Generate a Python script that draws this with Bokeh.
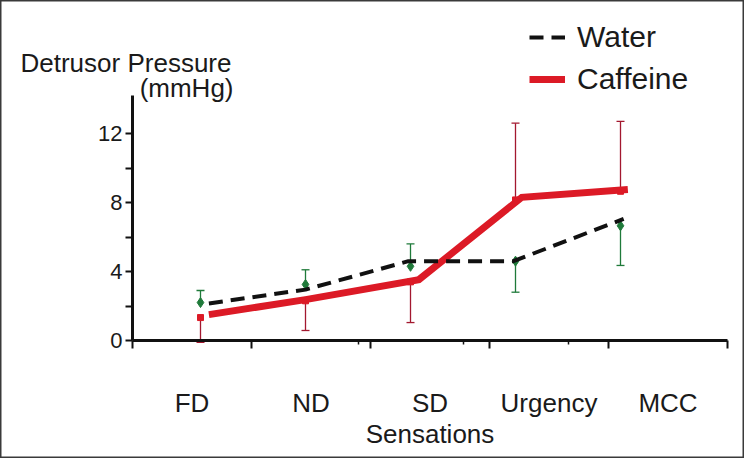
from bokeh.plotting import figure
from bokeh.models import Range1d, FixedTicker, Label, Legend, LegendItem
from bokeh.embed import file_html
from bokeh.resources import INLINE

# ---------------- data ----------------
categories = ["FD", "ND", "SD", "Urgency", "MCC"]
cat_index = [0, 1, 2, 3, 4]

water_mean = [2.2, 3.25, 4.3, 4.6, 6.65]
water_err_end = [2.9, 4.1, 5.6, 2.8, 4.35]      # one-sided error bars
caff_mean = [1.33, 2.3, 3.4, 8.15, 8.65]
caff_err_end = [-0.1, 0.58, 1.04, 12.6, 12.7]

water_line_x = [0.08, 1.0, 1.98, 2.98, 4.03]
water_line_y = [2.15, 2.95, 4.6, 4.6, 7.05]
caff_line_x = [0.08, 1.0, 2.08, 3.06, 4.07]
caff_line_y = [1.5, 2.37, 3.53, 8.3, 8.75]

y_ticks = [0, 2, 4, 6, 8, 10, 12]
y_tick_labels = {2: "", 6: "", 10: ""}

# ---------------- layout helpers (screen px of reference) ----------------
W, H = 744, 458
PX_X = 105.0      # px per category step
X0 = 200.0        # screen x of first category point
PX_Y = 17.25      # px per mmHg
Y0 = 340.0        # screen y of 0


def dx(sx):
    return (sx - X0) / PX_X


def dy(sy):
    return (Y0 - sy) / PX_Y


ax_x0, ax_x1 = dx(132), dx(727)     # x-axis extent
ax_ytop = dy(95)                    # y-axis top
FONT = "Liberation Sans"
TXT = "#1a1a1a"
AX = "#111111"

p = figure(width=W, height=H, output_backend="svg", toolbar_location=None,
           x_range=Range1d(dx(0), dx(W)), y_range=Range1d(dy(H), dy(0)),
           min_border=0)
p.outline_line_color = "#3a3a3a"
p.outline_line_width = 2
p.xgrid.visible = False
p.ygrid.visible = False
p.background_fill_color = "white"
p.border_fill_color = "white"

# ---- axes ----
step = (ax_x1 - ax_x0) / 5
bounds = [ax_x0 + k * step for k in range(6)]
mids = [ax_x0 + (k + 0.5) * step for k in range(5)]

xa = p.xaxis[0]
xa.fixed_location = 0
xa.bounds = (ax_x0, ax_x1)
xa.ticker = FixedTicker(ticks=bounds, minor_ticks=[1.5, 2.5, 3.5])
xa.major_label_overrides = {b: "" for b in bounds}
xa.axis_line_width = 3
xa.axis_line_color = AX
xa.major_tick_line_width = 2
xa.major_tick_line_color = AX
xa.major_tick_out = 8
xa.major_tick_in = 0
xa.minor_tick_line_width = 1.5
xa.minor_tick_line_color = AX
xa.minor_tick_out = 4
xa.minor_tick_in = 0

ya = p.yaxis[0]
ya.fixed_location = ax_x0
ya.bounds = (0, ax_ytop)
ya.ticker = FixedTicker(ticks=y_ticks)
ya.major_label_overrides = y_tick_labels
ya.axis_line_width = 3
ya.axis_line_color = AX
ya.major_tick_line_width = 2
ya.major_tick_line_color = AX
ya.major_tick_out = 7
ya.major_tick_in = 0
ya.minor_tick_line_color = None
ya.major_label_text_font = FONT
ya.major_label_text_font_size = "22px"
ya.major_label_text_color = TXT
ya.major_label_standoff = 3

# ---- error bars ----
GREEN = "#1f7a3a"
DRED = "#a3182f"
RED = "#dc1a26"

p.segment(x0=cat_index, y0=water_mean, x1=cat_index, y1=water_err_end,
          line_color=GREEN, line_width=1.3)
p.scatter(x=cat_index, y=water_err_end, marker="dash", size=8,
          line_color=GREEN, line_width=1.3)
p.segment(x0=cat_index, y0=caff_mean, x1=cat_index, y1=caff_err_end,
          line_color=DRED, line_width=1.3)
p.scatter(x=cat_index, y=caff_err_end, marker="dash", size=8,
          line_color=DRED, line_width=1.3)

# ---- markers ----
p.scatter(x=cat_index, y=water_mean, marker="diamond", size=10,
          fill_color=GREEN, line_color=GREEN)
p.scatter(x=cat_index, y=caff_mean, marker="square", size=6,
          fill_color=RED, line_color=RED)

# ---- lines ----
caff_line = p.line(x=caff_line_x, y=caff_line_y, line_color=RED, line_width=7,
                   line_join="miter")
water_line = p.line(x=water_line_x, y=water_line_y, line_color=AX,
                    line_width=4, line_dash="14 8")

# ---- legend ----
legend = Legend(items=[LegendItem(label="Water", renderers=[water_line]),
                       LegendItem(label="Caffeine", renderers=[caff_line])],
                location=(529, 362), orientation="vertical",
                label_text_font=FONT, label_text_font_size="30px",
                label_text_color=TXT, glyph_width=36, glyph_height=24,
                label_standoff=12, spacing=8, padding=0, margin=0,
                border_line_color=None, background_fill_alpha=0)
p.add_layout(legend, "center")

# ---- texts ----
p.add_layout(Label(x=dx(20), y=dy(62), text="Detrusor Pressure",
                   text_font=FONT, text_font_size="26px", text_color=TXT,
                   text_align="left", text_baseline="alphabetic"))
p.add_layout(Label(x=dx(233), y=dy(87), text="(mmHg)",
                   text_font=FONT, text_font_size="26px", text_color=TXT,
                   text_align="right", text_baseline="alphabetic"))

for name, xm in zip(categories, mids):
    p.add_layout(Label(x=xm, y=dy(402), text=name, text_font=FONT,
                       text_font_size="26px", text_color=TXT,
                       text_align="center", text_baseline="alphabetic"))

p.add_layout(Label(x=(ax_x0 + ax_x1) / 2, y=dy(433), text="Sensations",
                   text_font=FONT, text_font_size="26px", text_color=TXT,
                   text_align="center", text_baseline="alphabetic"))

open("out.html", "w").write(file_html(p, INLINE))
